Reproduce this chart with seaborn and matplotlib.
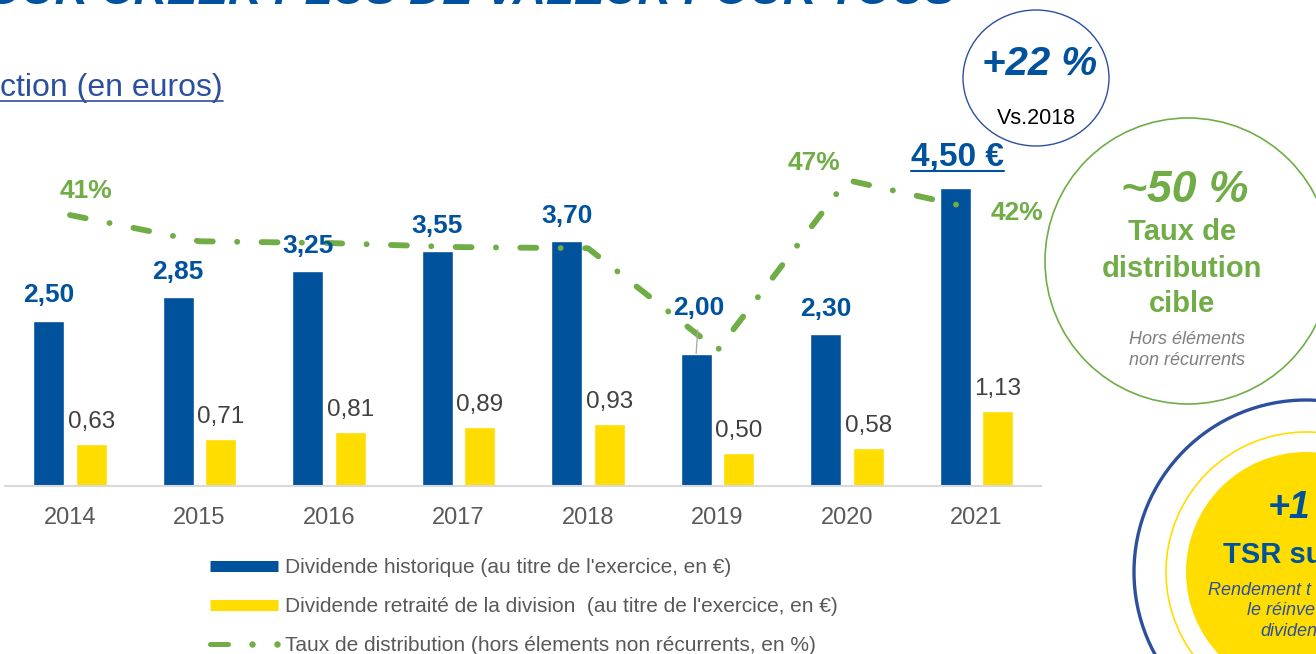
import numpy as np
import pandas as pd
import seaborn as sns
import matplotlib.pyplot as plt
from matplotlib.patches import Circle, Ellipse

# values
years = ['2014', '2015', '2016', '2017', '2018', '2019', '2020', '2021']
div_hist = [2.50, 2.85, 3.25, 3.55, 3.70, 2.00, 2.30, 4.50]
div_split = [0.63, 0.71, 0.81, 0.89, 0.93, 0.50, 0.58, 1.13]
payout = [41, 36.5, 36.2, 35.5, 35.3, 17.8, 47, 42]
payout_shown = ['41%', '', '', '', '', '', '47%', '42%']
series = ["Dividende historique (au titre de l'exercice, en €)",
          "Dividende retraité de la division  (au titre de l'exercice, en €)"]
line_name = "Taux de distribution (hors élements non récurrents, en %)"

BLUE = '#00529C'
YELLOW = '#FFDD00'
GREEN = '#70AD47'
GREY = '#595959'
DARK = '#404040'
NAVY = '#2C4F9E'

W, H = 1316, 654
PT = 0.72  # pixels -> points at 100 dpi

sns.set_style('white')
plt.rcParams['font.family'] = ['Liberation Sans', 'DejaVu Sans']
plt.rcParams['lines.scale_dashes'] = False

fig = plt.figure(figsize=(W / 100, H / 100), dpi=100)
ax = fig.add_axes([5.25 / W, 1 - 486 / H, 1036 / W, 366 / H])

df = pd.DataFrame({'annee': years * 2,
                   'serie': [series[0]] * 8 + [series[1]] * 8,
                   'dividende': div_hist + div_split})
sns.barplot(data=df, x='annee', y='dividende', hue='serie', hue_order=series,
            palette=[BLUE, YELLOW], saturation=1, width=0.66, gap=0.275,
            legend=False, ax=ax)

ax2 = ax.twinx()
sns.lineplot(x=np.arange(8), y=payout, color=GREEN, lw=4.2, ax=ax2, zorder=3)
ln = ax2.lines[0]
ln.set_dashes([11.5, 17.5, 0.1, 17.5])
ln.set_dash_capstyle('round')

ax.set_xlim(-0.5, 7.5)
ax.set_ylim(0, 366 / 66.2)
ax2.set_ylim(-5.48, 57.3)
ax.set_xlabel('')
ax.set_ylabel('')
ax.set_yticks([])
ax2.set_yticks([])
ax2.set_ylabel('')
sns.despine(ax=ax, left=True)
for s in ax2.spines.values():
    s.set_visible(False)
ax.spines['bottom'].set_color('#D9D9D9')
ax.spines['bottom'].set_linewidth(1.5)
ax.tick_params(axis='x', length=0, pad=15, labelsize=17, labelcolor=GREY)

# value labels (baseline distance above bar top, in px)
blue_gap = [18, 18, 18, 18, 18, 39, 18, 22]
blue_dx = [0, 0, 0, 0, 0, 3, 0, 2.5]
blue_bars = ax.containers[0]
yellow_bars = ax.containers[1]
big_label = None
for i, (bar, v) in enumerate(zip(blue_bars, div_hist)):
    x = bar.get_x() + bar.get_width() / 2
    txt = f'{v:.2f}'.replace('.', ',')
    kw = dict(xy=(x, v), xycoords=ax.transData, textcoords='offset points',
              xytext=(blue_dx[i] * PT, blue_gap[i] * PT), ha='center', va='baseline',
              color=BLUE, fontweight='bold', fontsize=19, zorder=6)
    if i == 5:
        kw['arrowprops'] = dict(arrowstyle='-', color='#A6A6A6', lw=0.9,
                                shrinkA=5, shrinkB=0)
    if i == 7:
        txt += ' €'
        kw['fontsize'] = 24
    t = ax2.annotate(txt, **kw)
    if i == 7:
        big_label = (t, x, v)

for bar, v in zip(yellow_bars, div_split):
    x = bar.get_x() + bar.get_width() / 2
    ax2.annotate(f'{v:.2f}'.replace('.', ','), xy=(x, v), xycoords=ax.transData,
                 textcoords='offset points', xytext=(0, 16 * PT), ha='center',
                 va='baseline', color=DARK, fontsize=17.5, zorder=6)

pct_off = {0: (16, 17), 6: (-33.5, 10), 7: (40.5, -11)}
for i, lbl in enumerate(payout_shown):
    if lbl:
        dx, dy = pct_off[i]
        ax2.annotate(lbl, xy=(i, payout[i]), textcoords='offset points',
                     xytext=(dx * PT, dy * PT), ha='center', va='baseline',
                     color=GREEN, fontweight='bold', fontsize=19, zorder=6)

# overlay in pixel coordinates for slide decorations
ov = fig.add_axes([0, 0, 1, 1])
ov.set_xlim(0, W)
ov.set_ylim(H, 0)
ov.axis('off')

ov.text(955, 4, 'OUR CRÉER PLUS DE VALEUR POUR TOUS', ha='right', va='baseline',
        fontsize=33, fontweight='bold', fontstyle='italic', color='#0052A0')
ov.text(223, 96, 'ction (en euros)', ha='right', va='baseline', fontsize=23,
        color=NAVY)
ov.plot([0, 223], [101, 101], color=NAVY, lw=1.2)

# +22 % bubble
ov.add_patch(Ellipse((1036, 78), 146, 136, fill=False, ec=NAVY, lw=1.0))
ov.text(1040, 75, '+22 %', ha='center', va='baseline', fontsize=29,
        fontweight='bold', fontstyle='italic', color=BLUE)
ov.text(1036, 124, 'Vs.2018', ha='center', va='baseline', fontsize=15.5,
        color='black')

# payout target bubble
ov.add_patch(Circle((1188, 261), 143, fill=False, ec=GREEN, lw=1.2))
ov.text(1185, 202, '~50 %', ha='center', va='baseline', fontsize=32,
        fontweight='bold', fontstyle='italic', color=GREEN)
for s, yb in [('Taux de', 240), ('distribution', 277), ('cible', 312)]:
    ov.text(1182, yb, s, ha='center', va='baseline', fontsize=21,
            fontweight='bold', color=GREEN)
for s, yb in [('Hors éléments', 344), ('non récurrents', 365)]:
    ov.text(1187, yb, s, ha='center', va='baseline', fontsize=13,
            fontstyle='italic', color='#7F7F7F')

# TSR bubble (cut by the slide edge)
ov.add_patch(Circle((1306, 572), 172, fill=False, ec=NAVY, lw=2.4))
ov.add_patch(Circle((1306, 572), 140, fill=False, ec=YELLOW, lw=1.2))
ov.add_patch(Circle((1306, 572), 120, fc=YELLOW, ec='none'))
ov.text(1268, 518, '+1', ha='left', va='baseline', fontsize=27,
        fontweight='bold', fontstyle='italic', color=BLUE)
ov.text(1223, 563, 'TSR su', ha='left', va='baseline', fontsize=21,
        fontweight='bold', color=BLUE)
for s, xl, yb in [('Rendement t', 1208, 595), ('le réinve', 1247, 615),
                  ('dividen', 1260, 636)]:
    ov.text(xl, yb, s, ha='left', va='baseline', fontsize=13,
            fontstyle='italic', color=NAVY)

# legend
ov.plot([210, 278], [566, 566], color=BLUE, lw=11 * PT, solid_capstyle='butt')
ov.plot([210, 278], [605, 605], color=YELLOW, lw=11 * PT, solid_capstyle='butt')
ov.plot([210, 228], [644, 644], color=GREEN, lw=5 * PT, solid_capstyle='round')
ov.plot([252, 277], [644, 644], ls='none', marker='o', ms=5 * PT, color=GREEN)
for s, yb in [(series[0], 573), (series[1], 612), (line_name, 651)]:
    ov.text(285, yb, s, ha='left', va='baseline', fontsize=15, color=GREY)

# underline of the 2021 label
fig.canvas.draw()
t, x, v = big_label
bb = t.get_window_extent()
top = ax.transData.transform((x, v))[1]
yl = H - (top + 17)
ov.plot([bb.x0, bb.x1], [yl, yl], color=BLUE, lw=1.5)

fig.savefig('out.png', dpi=100)
